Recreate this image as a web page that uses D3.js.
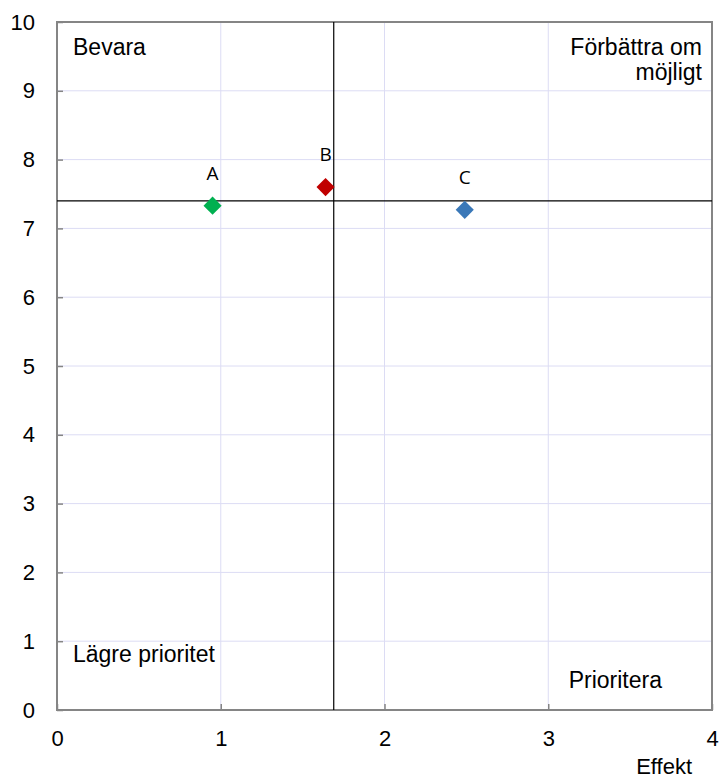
<!DOCTYPE html>
<html>
<head>
<meta charset="utf-8">
<style>
  body { margin: 0; background: #fff; }
  text { font-family: "Liberation Sans", Arial, sans-serif; }
</style>
</head>
<body>
<div id="chart"></div>
<script src="https://d3js.org/d3.v7.min.js"></script>
<script>

// data
let names = ["A", "B", "C"];
let effekt = [0.95, 1.64, 2.49];
let values = [7.33, 7.60, 7.27];
let colors = ["#00b050", "#c00000", "#3a78b8"];
let refX = 1.69, refY = 7.40;
let xTicks = [0, 1, 2, 3, 4];
let yTicks = [0, 1, 2, 3, 4, 5, 6, 7, 8, 9, 10];

let width = 722, height = 780;
let margin = {top: 22, right: 10, bottom: 70, left: 57};
let w = width - margin.left - margin.right,
    h = height - margin.top - margin.bottom;

let svg = d3.select("#chart").append("svg")
  .attr("width", width)
  .attr("height", height);

let g = svg.append("g")
  .attr("transform", "translate(" + margin.left + "," + margin.top + ")");

let x = d3.scaleLinear().domain([0, 4]).range([0, w]);
let y = d3.scaleLinear().domain([0, 10]).range([h, 0]);

// grid
g.append("g").selectAll("line").data(xTicks.slice(1, -1)).enter().append("line")
  .attr("x1", d => x(d)).attr("x2", d => x(d))
  .attr("y1", 0).attr("y2", h)
  .attr("stroke", "#dcdcf4").attr("stroke-width", 1);
g.append("g").selectAll("line").data(yTicks.slice(1, -1)).enter().append("line")
  .attr("x1", 0).attr("x2", w)
  .attr("y1", d => y(d)).attr("y2", d => y(d))
  .attr("stroke", "#dcdcf4").attr("stroke-width", 1);

// frame
g.append("rect")
  .attr("width", w).attr("height", h)
  .attr("fill", "none").attr("stroke", "#858585").attr("stroke-width", 2);

// axes
let xAxis = g.append("g")
  .attr("transform", "translate(0," + h + ")")
  .call(d3.axisBottom(x).tickValues(xTicks).tickSize(-6).tickPadding(20).tickFormat(d3.format("d")));
let yAxis = g.append("g")
  .call(d3.axisLeft(y).tickValues(yTicks).tickSize(-6).tickPadding(22).tickFormat(d3.format("d")));
[xAxis, yAxis].forEach(a => {
  a.select(".domain").remove();
  a.selectAll(".tick line").attr("stroke", "#858585").attr("stroke-width", 1.5);
  a.selectAll(".tick text").attr("font-size", 22).attr("fill", "#000")
    .attr("font-family", "Liberation Sans, Arial, sans-serif");
});

// reference lines
g.append("line")
  .attr("x1", x(refX)).attr("x2", x(refX)).attr("y1", 0).attr("y2", h)
  .attr("stroke", "#000").attr("stroke-width", 1.2);
g.append("line")
  .attr("x1", 0).attr("x2", w).attr("y1", y(refY)).attr("y2", y(refY))
  .attr("stroke", "#000").attr("stroke-width", 1.2);

// points
let pts = names.map((n, i) => ({name: n, x: effekt[i], y: values[i], color: colors[i]}));
g.selectAll(".pt").data(pts).enter().append("path")
  .attr("class", "pt")
  .attr("d", d3.symbol().type(d3.symbolDiamond2).size(210))
  .attr("transform", d => "translate(" + x(d.x) + "," + y(d.y) + ")")
  .attr("fill", d => d.color);
g.selectAll(".lbl").data(pts).enter().append("text")
  .attr("x", d => x(d.x))
  .attr("y", d => y(d.y) - 26)
  .attr("text-anchor", "middle")
  .attr("font-size", 19)
  .style("font-family", "'Open Sans', sans-serif")
  .text(d => d.name);

// quadrant labels
let q = g.append("g").attr("font-size", 23).attr("fill", "#000");
q.append("text").attr("x", 16).attr("y", 33).text("Bevara");
q.append("text").attr("x", w - 10).attr("y", 33).attr("text-anchor", "end").text("Förbättra om");
q.append("text").attr("x", w - 10).attr("y", 58).attr("text-anchor", "end").text("möjligt");
q.append("text").attr("x", 16).attr("y", 640).text("Lägre prioritet");
q.append("text").attr("x", w - 50).attr("y", 666).attr("text-anchor", "end").text("Prioritera");

// axis title
svg.append("text")
  .attr("x", 692).attr("y", 774)
  .attr("text-anchor", "end")
  .attr("font-size", 22)
  .text("Effekt");

</script>
</body>
</html>
